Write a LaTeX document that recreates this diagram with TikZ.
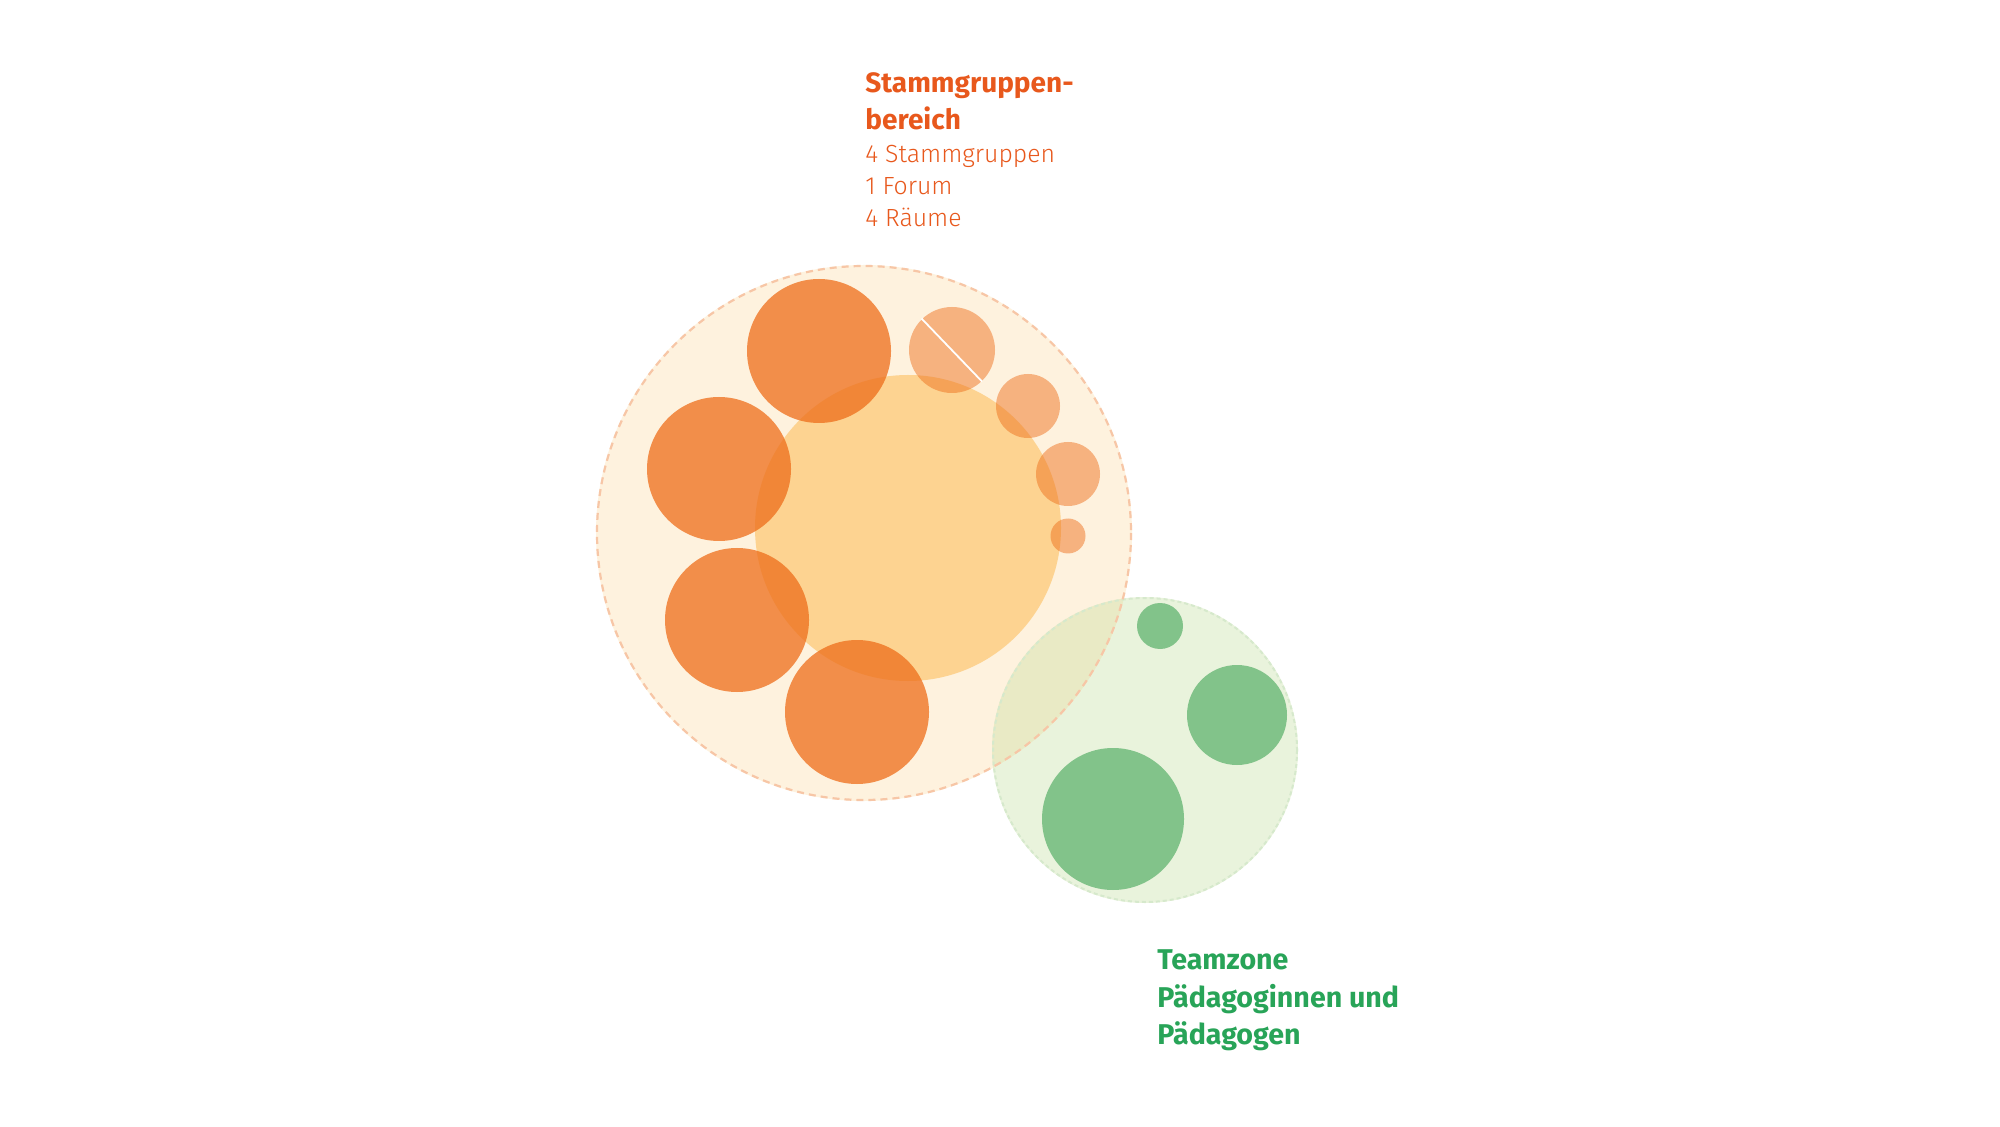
\documentclass[tikz,border=0pt]{standalone}
\usepackage{fontspec}
\setmainfont{Fira Sans}
\newfontfamily\lightfont{Fira Sans Light}
\usetikzlibrary{calc}
\definecolor{cream}{RGB}{254,242,222}
\definecolor{forum}{RGB}{253,211,145}
\definecolor{orangebase}{RGB}{238,109,25}
\definecolor{orangeedge}{RGB}{247,198,166}
\definecolor{greenbase}{RGB}{185,218,142}
\definecolor{greenedge}{RGB}{214,233,204}
\definecolor{greendot}{RGB}{130,195,138}
\definecolor{orangetext}{RGB}{232,88,28}
\definecolor{greentext}{RGB}{40,164,88}
\begin{document}
\begin{tikzpicture}[x=0.5pt,y=-0.5pt,
  group/.style={fill=orangebase,fill opacity=0.75},
  room/.style={fill=orangebase,fill opacity=0.48},
  team/.style={fill=greendot},
  headO/.style={anchor=base west,inner sep=0pt,text=orangetext,font=\fontsize{14}{17}\selectfont\bfseries},
  subO/.style={anchor=base west,inner sep=0pt,text=orangetext,font=\lightfont\fontsize{12.4}{14}\selectfont},
  headG/.style={anchor=base west,inner sep=0pt,text=greentext,font=\fontsize{14.3}{18}\selectfont\bfseries}]
\useasboundingbox (0,0) rectangle (2000,1127);
\fill[white] (0,0) rectangle (2000,1127);
% coordinates
\coordinate (big) at (864,533);
\coordinate (fo) at (908,528);
\coordinate (s1) at (819,351);
\coordinate (s2) at (719,469);
\coordinate (s3) at (737,620);
\coordinate (s4) at (857,712);
\coordinate (ra) at (952,350);
\coordinate (rb) at (1028,406);
\coordinate (rc) at (1068,474);
\coordinate (rd) at (1068,536);
\coordinate (gz) at (1145,750);
\coordinate (g1) at (1160,626);
\coordinate (g2) at (1237,715);
\coordinate (g3) at (1113,819);
% orange area
\fill[cream] (big) circle[radius=268];
\fill[forum] (fo) circle[radius=153];
\fill[group] (s1) circle[radius=72];
\fill[group] (s2) circle[radius=72];
\fill[group] (s3) circle[radius=72];
\fill[group] (s4) circle[radius=72];
\fill[room] (ra) circle[radius=43];
\fill[room] (rb) circle[radius=32];
\fill[room] (rc) circle[radius=32];
\fill[room] (rd) circle[radius=17.5];
\draw[white,line width=0.9pt] ($(ra)+(-30.5,-31.5)$) -- ($(ra)+(30,31.5)$);
% green area
\fill[greenbase,fill opacity=0.3] (gz) circle[radius=153];
\fill[team] (g1) circle[radius=23];
\fill[team] (g2) circle[radius=50];
\fill[team] (g3) circle[radius=71];
% outlines
\draw[greenedge,line width=1pt,dash pattern=on 2pt off 1.5pt] (gz) circle[radius=152];
\draw[orangeedge,line width=1.1pt,dash pattern=on 3.5pt off 2.5pt] (big) circle[radius=267];
% texts
\node[headO] (t1) at (865,93) {Stammgruppen-};
\node[headO] (t2) at (865,130) {bereich};
\node[subO] (t3) at (865,163) {4 Stammgruppen};
\node[subO] (t4) at (865,195) {1 Forum};
\node[subO] (t5) at (865,227) {4 Räume};
\node[headG] (u1) at (1157,969) {Teamzone};
\node[headG] (u2) at (1157,1007) {Pädagoginnen und};
\node[headG] (u3) at (1157,1044) {Pädagogen};
\end{tikzpicture}
\end{document}
